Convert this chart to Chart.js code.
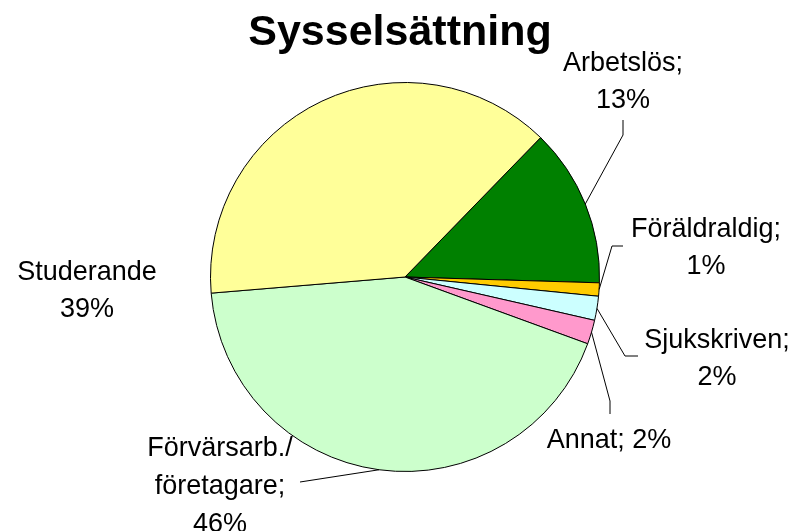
<!DOCTYPE html>
<html>
<head>
<meta charset="utf-8">
<script src="https://cdn.jsdelivr.net/npm/chart.js@4.4.1/dist/chart.umd.min.js"></script>
<style>
  html, body { margin: 0; padding: 0; background: #fff; }
  #wrap { width: 801px; height: 531px; }
</style>
</head>
<body>
<div id="wrap"><canvas id="pieChart" width="801" height="531"></canvas></div>
<script>
// Daten (Reihenfolge im Uhrzeigersinn, Start bei Arbetslös)
const categories = ["Arbetslös", "Föräldraldig", "Sjukskriven", "Annat", "Förvärsarb./ företagare", "Studerande"];
const shares = [13.2, 1.1, 2.0, 2.0, 43.1, 38.6];
const percentLabels = ["13%", "1%", "2%", "2%", "46%", "39%"];
const sliceColors = ["#008000", "#FFCC00", "#CCFFFF", "#FF99CC", "#CCFFCC", "#FFFF99"];

// Beschriftungen: Zeilen, Mitte x, erste Grundlinie, Zeilenabstand, Linienpunkte (Label-Seite)
const labelLayout = [
    { lines: ["Arbetslös;", "13%"], x: 623, y: 71, step: 37, leader: [[623, 120], [623, 135]] },
    { lines: ["Föräldraldig;", "1%"], x: 706, y: 237, step: 37, leader: [[623, 246], [612, 246]] },
    { lines: ["Sjukskriven;", "2%"], x: 717, y: 348, step: 37, leader: [[638, 356], [625, 356]] },
    { lines: ["Annat; 2%"], x: 609, y: 448, step: 37, leader: [[610, 414], [610, 401]] },
    { lines: ["Förvärsarb./", "företagare;", "46%"], x: 220, y: 456, step: 38, leader: [[300, 482]] },
    { lines: ["Studerande", "39%"], x: 87, y: 280, step: 37, leader: null }
];

const labelPlugin = {
    id: 'labelPlugin',
    afterDraw(chart) {
        const ctx = chart.ctx;
        const meta = chart.getDatasetMeta(0);
        ctx.save();
        // Titel
        ctx.fillStyle = "#000";
        ctx.textAlign = "center";
        ctx.textBaseline = "alphabetic";
        ctx.font = "bold 43px 'Liberation Sans', Arial, sans-serif";
        ctx.fillText("Sysselsättning", 400, 45);

        ctx.font = "28px 'Liberation Sans', Arial, sans-serif";
        ctx.strokeStyle = "#000";
        ctx.lineWidth = 1;
        labelLayout.forEach((lab, i) => {
            lab.lines.forEach((t, k) => {
                let w = ctx.measureText(t).width;
                ctx.fillText(t, lab.x, lab.y + k * lab.step, w * 0.965);
            });
            if (!lab.leader) return;
            const arc = meta.data[i];
            const mid = (arc.startAngle + arc.endAngle) / 2;
            const ex = arc.x + Math.cos(mid) * arc.outerRadius;
            const ey = arc.y + Math.sin(mid) * arc.outerRadius;
            ctx.beginPath();
            ctx.moveTo(lab.leader[0][0], lab.leader[0][1]);
            for (let p = 1; p < lab.leader.length; p++) {
                ctx.lineTo(lab.leader[p][0], lab.leader[p][1]);
            }
            ctx.lineTo(ex, ey);
            ctx.stroke();
        });
        ctx.restore();
    }
};

window.onload = () => {
    let ctx = document.getElementById('pieChart').getContext('2d');
    new Chart(ctx, {
        type: 'pie',
        data: {
            labels: categories,
            datasets: [{
                data: shares,
                backgroundColor: sliceColors,
                borderColor: "#000",
                borderWidth: 1
            }]
        },
        options: {
            responsive: false,
            animation: false,
            rotation: 44.2,
            layout: { padding: { left: 210, right: 201, top: 82, bottom: 59 } },
            plugins: {
                legend: { display: false },
                tooltip: { enabled: false },
                title: { display: false }
            }
        },
        plugins: [labelPlugin]
    });
};
</script>
</body>
</html>
